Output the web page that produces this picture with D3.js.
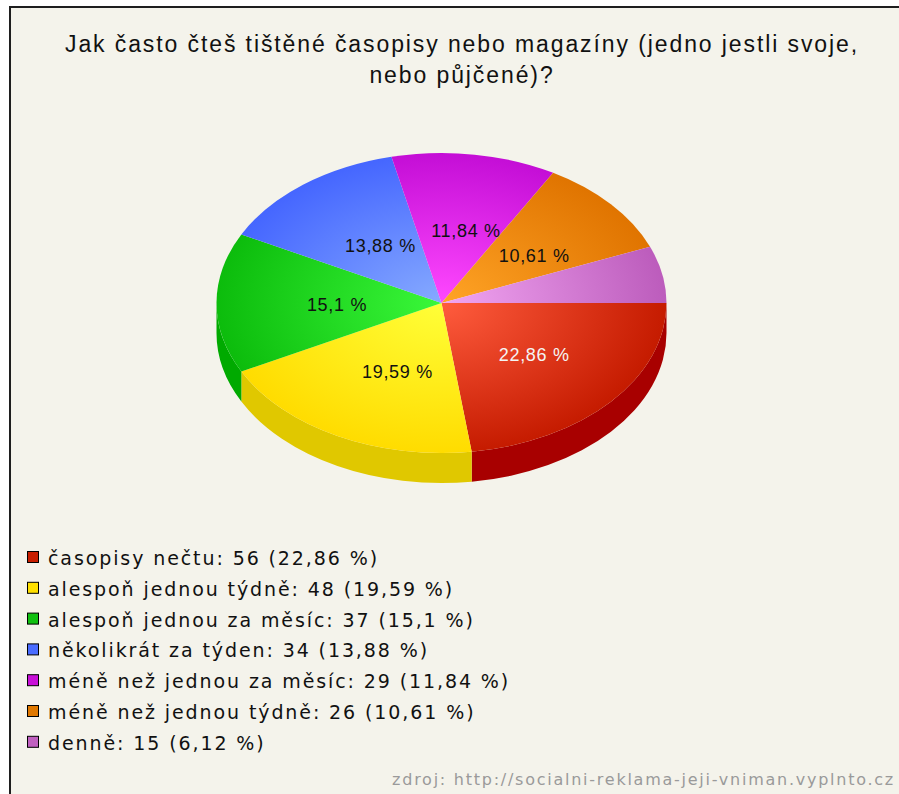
<!DOCTYPE html>
<html>
<head>
<meta charset="utf-8">
<script src="https://cdn.jsdelivr.net/npm/d3@7"></script>
<style>
  html, body { margin: 0; padding: 0; background: #ffffff; }
  svg { display: block; }
</style>
</head>
<body>
<script>
// Survey answers: "Jak často čteš tištěné časopisy nebo magazíny?"
const categories = [
  "časopisy nečtu",
  "alespoň jednou týdně",
  "alespoň jednou za měsíc",
  "několikrát za týden",
  "méně než jednou za měsíc",
  "méně než jednou týdně",
  "denně"
];
const counts = [56, 48, 37, 34, 29, 26, 15];
const percentLabels = ["22,86 %", "19,59 %", "15,1 %", "13,88 %", "11,84 %", "10,61 %", "6,12 %"];
const showSliceLabel = [true, true, true, true, true, true, false];

// Slice palette: light centre, dark rim, side wall, legend swatch
const lightColors = ["#ff5c3e", "#ffff38", "#3af83a", "#86aaff", "#ff48ff", "#ffa426", "#f2a6f2"];
const darkColors  = ["#c51b00", "#ffdc00", "#0cbc0c", "#4566ff", "#c40ed6", "#e07400", "#bc5cbc"];
const sideColors  = ["#a80000", "#e0c800", "#00aa00", "#3050d0", "#a000b0", "#b05800", "#9a409a"];
const swatchColors = ["#c81e00", "#ffe000", "#10c010", "#4a6cff", "#c810d8", "#e07800", "#c060c0"];
const labelColors = ["#f4f4f4", "#111", "#111", "#111", "#111", "#111", "#111"];

const titleLines = ["Jak často čteš tištěné časopisy nebo magazíny (jedno jestli svoje,", "nebo půjčené)?"];
const sourceText = "zdroj: http://socialni-reklama-jeji-vniman.vyplnto.cz";

const W = 899, H = 794;
const svg = d3.select("body").append("svg").attr("width", W).attr("height", H);

// Frame
svg.append("rect").attr("x", 0).attr("y", 0).attr("width", W).attr("height", H).attr("fill", "#ffffff");
svg.append("rect").attr("x", 10).attr("y", 7).attr("width", W + 20).attr("height", H + 20)
  .attr("fill", "#f4f3eb").attr("stroke", "#1e1e1e").attr("stroke-width", 2);

// Title
svg.append("text")
  .attr("x", 461).attr("y", 52)
  .attr("text-anchor", "middle")
  .attr("font-family", "Liberation Sans, Arial, sans-serif")
  .attr("font-size", 23)
  .attr("letter-spacing", 1.9)
  .attr("fill", "#111")
  .selectAll("tspan").data(titleLines).join("tspan")
  .attr("x", 462).attr("dy", (d, i) => i === 0 ? 0 : 31)
  .text(d => d);

// Pie geometry (ellipse seen in perspective, with a thick rim)
const cx = 441.5, cy = 303, rx = 225, ry = 150, depth = 30;
const sy = ry / rx;

const pie = d3.pie().sort(null).value(d => d)
  .startAngle(Math.PI / 2).endAngle(Math.PI / 2 + 2 * Math.PI);
const arcs = pie(counts);

const arc = d3.arc().innerRadius(0).outerRadius(rx);

const defs = svg.append("defs");
arcs.forEach((a, i) => {
  const g = defs.append("radialGradient")
    .attr("id", "grad" + i)
    .attr("gradientUnits", "userSpaceOnUse")
    .attr("cx", 0).attr("cy", 0).attr("r", rx)
    .attr("fx", 0).attr("fy", 0);
  g.append("stop").attr("offset", "0%").attr("stop-color", lightColors[i]);
  g.append("stop").attr("offset", "100%").attr("stop-color", darkColors[i]);
});

const pieG = svg.append("g").attr("transform", `translate(${cx},${cy}) scale(1,${sy})`);

// Rim: only the front half (parametric angle 0..π measured from 3 o'clock) is visible
const dScaled = depth / sy;
const rim = pieG.append("g");
arcs.forEach((a, i) => {
  const t0 = Math.max(a.startAngle - Math.PI / 2, 0);
  const t1 = Math.min(a.endAngle - Math.PI / 2, Math.PI);
  if (t1 <= t0) return;
  const x0 = rx * Math.cos(t0), y0 = rx * Math.sin(t0);
  const x1 = rx * Math.cos(t1), y1 = rx * Math.sin(t1);
  const p = `M${x0},${y0} A${rx},${rx} 0 0 1 ${x1},${y1} L${x1},${y1 + dScaled} A${rx},${rx} 0 0 0 ${x0},${y0 + dScaled} Z`;
  rim.append("path").attr("d", p).attr("fill", sideColors[i]);
});

// Top face
pieG.selectAll("path.slice").data(arcs).join("path")
  .attr("class", "slice")
  .attr("d", arc)
  .attr("fill", (d, i) => `url(#grad${i})`);

// Slice labels, placed half way out along each slice's middle angle
const labelR = 0.5;
const midT = d => (d.startAngle + d.endAngle) / 2 - Math.PI / 2;
svg.append("g").selectAll("text").data(arcs.filter((d, i) => showSliceLabel[i])).join("text")
  .attr("x", d => cx + labelR * rx * Math.cos(midT(d)) + 8)
  .attr("y", d => cy + labelR * ry * Math.sin(midT(d)) + 2)
  .attr("dy", "0.35em")
  .attr("text-anchor", "middle")
  .attr("font-family", "Liberation Sans, Arial, sans-serif")
  .attr("font-size", 18)
  .attr("letter-spacing", 0.7)
  .attr("fill", d => labelColors[d.index])
  .text(d => percentLabels[d.index]);

// Legend
const legend = svg.append("g").attr("transform", "translate(27,551)");
const rowH = 30.8;
const rows = legend.selectAll("g").data(categories).join("g")
  .attr("transform", (d, i) => `translate(0,${i * rowH})`);
rows.append("rect").attr("x", 0.5).attr("y", 0.5).attr("width", 11).attr("height", 11)
  .attr("fill", (d, i) => swatchColors[i]).attr("stroke", "#000").attr("stroke-width", 1);
rows.append("text")
  .attr("x", 21).attr("y", 14)
  .attr("font-family", "DejaVu Sans, Verdana, sans-serif")
  .attr("font-size", 19)
  .attr("letter-spacing", 1.9)
  .attr("fill", "#111")
  .text((d, i) => `${d}: ${counts[i]} (${percentLabels[i]})`);

// Source note
svg.append("text")
  .attr("x", 895).attr("y", 785)
  .attr("text-anchor", "end")
  .attr("font-family", "DejaVu Sans, Verdana, sans-serif")
  .attr("font-size", 16)
  .attr("letter-spacing", 1.75)
  .attr("fill", "#9a9a9a")
  .text(sourceText);
</script>
</body>
</html>
